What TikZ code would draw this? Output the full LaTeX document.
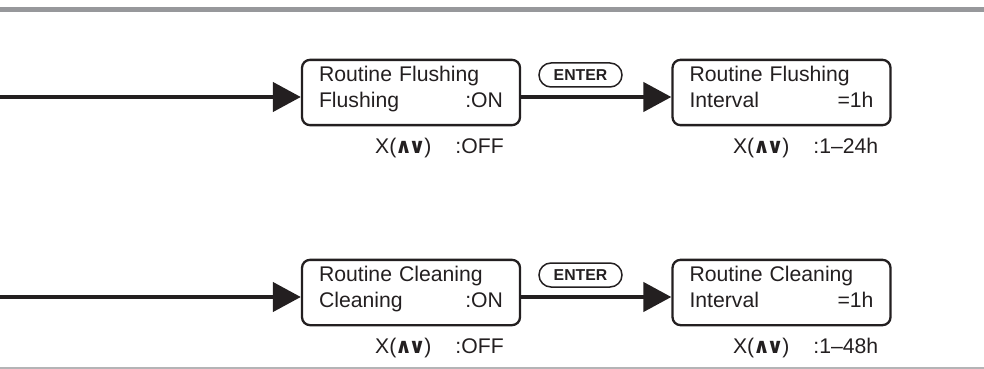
\documentclass[tikz,border=0pt]{standalone}
\usepackage{fontspec}
\setmainfont{Liberation Sans}
\newfontfamily\opsfont{DejaVu Sans}
\usetikzlibrary{arrows.meta,positioning}

\definecolor{ink}{HTML}{231F20}
\definecolor{bargray}{HTML}{97989B}
\definecolor{linegray}{HTML}{B4B4B6}

\newcommand{\updown}{{\opsfont\bfseries\fontsize{10.5}{10}\selectfont\kern-0.6pt∧\kern-1.8pt∨\kern-0.6pt}}

\begin{document}
\begin{tikzpicture}[x=0.5pt,y=-0.5pt,
  panel/.style={draw=ink, line width=1.15pt, rounded corners=4pt, minimum width=109pt,
    minimum height=30.5pt, text width=92pt, inner xsep=0pt, align=left,
    font=\fontsize{10.6}{12.8}\selectfont, text=ink},
  keycap/.style={draw=ink, line width=0.75pt, rounded corners=6pt, minimum width=41.5pt,
    minimum height=12pt, inner sep=0pt, font=\fontsize{7.9}{8}\selectfont\bfseries, text=ink},
  hint/.style={font=\fontsize{10.6}{12}\selectfont, text=ink, inner sep=0pt, anchor=base east},
  feed/.style={draw=ink, line width=2.2pt, -{Triangle[length=14pt,width=14.5pt]}}]
  \useasboundingbox (0,0) rectangle (984,369);
  \fill[bargray] (0,6.7) rectangle (984,12.3);
  \draw[linegray, line width=0.8pt] (0,368) -- (984,368);

  % routine flushing
  \node[panel] (fl1) at (411,92.5) {Routine Flushing\\Flushing\hfill:ON\rule[-5.5pt]{0pt}{0pt}};
  \node[panel] (fl2) at (781.5,92.5) {Routine Flushing\\Interval\hfill=1h\rule[-5.5pt]{0pt}{0pt}};
  \node[keycap] (en1) at (580.5,75) {ENTER};
  \node[hint] (fl1x) at ([xshift=-8.5pt,yshift=-13.5pt]fl1.south east) {X(\updown)\hspace{12pt}:OFF};
  \node[hint] (fl2x) at ([xshift=-6.5pt,yshift=-13.5pt]fl2.south east) {X(\updown)\hspace{12pt}:1--24h};
  \coordinate (src1) at (0,97);
  \draw[feed] (src1) -- (src1 -| fl1.west);
  \draw[feed] (fl1.east |- src1) -- (fl2.west |- src1);

  % routine cleaning
  \node[panel] (cl1) at (411,292.5) {Routine Cleaning\\Cleaning\hfill:ON\rule[-5.5pt]{0pt}{0pt}};
  \node[panel] (cl2) at (781.5,292.5) {Routine Cleaning\\Interval\hfill=1h\rule[-5.5pt]{0pt}{0pt}};
  \node[keycap] (en2) at (580.5,275) {ENTER};
  \node[hint] (cl1x) at ([xshift=-8.5pt,yshift=-13.5pt]cl1.south east) {X(\updown)\hspace{12pt}:OFF};
  \node[hint] (cl2x) at ([xshift=-6.5pt,yshift=-13.5pt]cl2.south east) {X(\updown)\hspace{12pt}:1--48h};
  \coordinate (src2) at (0,297);
  \draw[feed] (src2) -- (src2 -| cl1.west);
  \draw[feed] (cl1.east |- src2) -- (cl2.west |- src2);
\end{tikzpicture}
\end{document}
